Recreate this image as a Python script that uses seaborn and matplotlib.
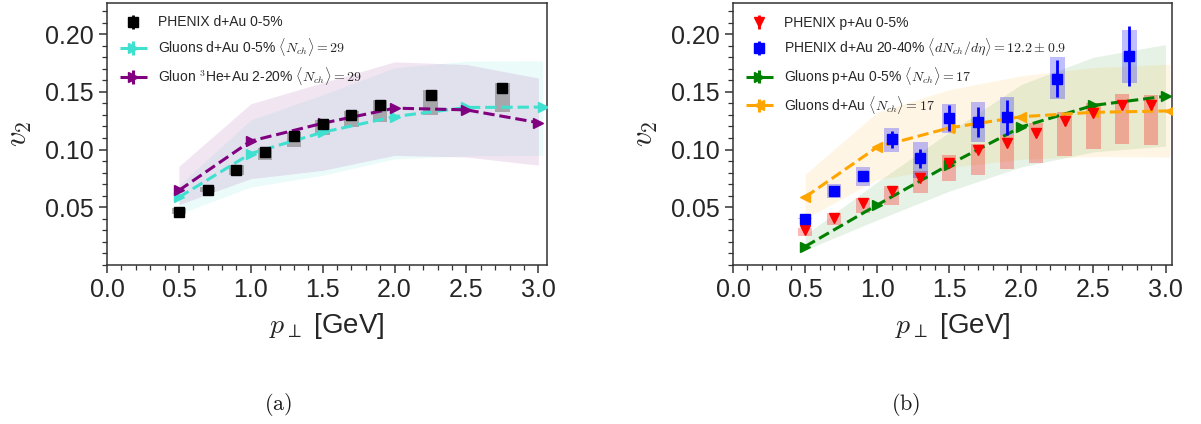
import numpy as np
import matplotlib
matplotlib.use("Agg")
import matplotlib.pyplot as plt
import seaborn as sns
from matplotlib.ticker import MultipleLocator, FixedLocator

# ---------------- Panel (a) data ----------------
phx_dau_x = [0.5, 0.7, 0.9, 1.1, 1.3, 1.5, 1.7, 1.9, 2.25, 2.75]
phx_dau_v2 = [0.0462, 0.0654, 0.0826, 0.0977, 0.1117, 0.1220, 0.1298, 0.1388, 0.1476, 0.1530]
phx_dau_err = [0.001, 0.001, 0.0015, 0.0015, 0.002, 0.002, 0.002, 0.002, 0.003, 0.003]
phx_dau_sys_lo = [0.0445, 0.0630, 0.0777, 0.0914, 0.1024, 0.1126, 0.1199, 0.1243, 0.1300, 0.1324]
phx_dau_sys_hi = [0.0490, 0.0680, 0.0864, 0.1010, 0.1150, 0.1257, 0.1336, 0.1432, 0.1520, 0.1578]

glu_dau_x = [0.5, 1.0, 1.5, 2.0, 2.5, 3.03]
glu_dau_v2 = [0.0587, 0.0966, 0.1150, 0.1286, 0.1365, 0.1368]
glu_dau_lo = [0.0442, 0.0675, 0.0777, 0.0920, 0.0945, 0.0950]
glu_dau_hi = [0.0690, 0.1257, 0.1475, 0.1709, 0.1766, 0.1770]

glu_he_x = [0.5, 1.0, 1.5, 2.0, 2.5, 3.0]
glu_he_v2 = [0.0646, 0.1074, 0.1228, 0.1359, 0.1344, 0.1233]
glu_he_lo = [0.0523, 0.0748, 0.0820, 0.0950, 0.0935, 0.0865]
glu_he_hi = [0.0855, 0.1397, 0.1580, 0.1760, 0.1737, 0.1620]

# ---------------- Panel (b) data ----------------
phx_pau_x = [0.5, 0.7, 0.9, 1.1, 1.3, 1.5, 1.7, 1.9, 2.1, 2.3, 2.5, 2.7, 2.9]
phx_pau_v2 = [0.0300, 0.0408, 0.0535, 0.0638, 0.0756, 0.0885, 0.0994, 0.1056, 0.1144,
              0.1247, 0.1320, 0.1388, 0.1388]
phx_pau_err = [0.001, 0.001, 0.001, 0.0015, 0.0015, 0.002, 0.002, 0.002, 0.0025,
               0.003, 0.003, 0.0035, 0.0035]
phx_pau_sys_lo = [0.0250, 0.0344, 0.0452, 0.0520, 0.0624, 0.0726, 0.0776, 0.0829, 0.0882,
                  0.0942, 0.1006, 0.1050, 0.1037]
phx_pau_sys_hi = [0.0318, 0.0452, 0.0579, 0.0688, 0.0814, 0.0953, 0.1050, 0.1123, 0.1226,
                  0.1327, 0.1403, 0.1482, 0.1470]

phx_dau2_x = [0.5, 0.7, 0.9, 1.1, 1.3, 1.5, 1.7, 1.9, 2.25, 2.75]
phx_dau2_v2 = [0.0400, 0.0641, 0.0770, 0.1088, 0.0924, 0.1270, 0.1241, 0.1279, 0.1615, 0.1815]
phx_dau2_err = [0.0005, 0.001, 0.004, 0.007, 0.0085, 0.0112, 0.0128, 0.0150, 0.0157, 0.0260]
phx_dau2_sys_lo = [0.0395, 0.0579, 0.0682, 0.0977, 0.0756, 0.1147, 0.1065, 0.1123, 0.1441, 0.1580]
phx_dau2_sys_hi = [0.0410, 0.0703, 0.0853, 0.1189, 0.1065, 0.1394, 0.1412, 0.1453, 0.1800, 0.2036]

glu_pau_x = [0.5, 1.0, 1.5, 2.0, 2.5, 3.0]
glu_pau_v2 = [0.0160, 0.0520, 0.0870, 0.1197, 0.1383, 0.1462]
glu_pau_lo = [0.0130, 0.0390, 0.0640, 0.0850, 0.0980, 0.1030]
glu_pau_hi = [0.0260, 0.0720, 0.1150, 0.1565, 0.1800, 0.1910]

glu_dau17_x = [0.5, 1.0, 1.5, 2.0, 2.5, 3.03]
glu_dau17_v2 = [0.0588, 0.1021, 0.1188, 0.1285, 0.1323, 0.1335]
glu_dau17_lo = [0.0400, 0.0740, 0.0844, 0.0917, 0.0940, 0.0935]
glu_dau17_hi = [0.0785, 0.1323, 0.1520, 0.1640, 0.1710, 0.1740]

y_ticks = [0.05, 0.10, 0.15, 0.20]
x_ticks = [0.0, 0.5, 1.0, 1.5, 2.0, 2.5, 3.0]

# ---------------- style ----------------
sns.set_theme(style="ticks")
plt.rcParams['font.family'] = ['Liberation Sans', 'DejaVu Sans']
plt.rcParams['mathtext.fontset'] = 'cm'
plt.rcParams['axes.edgecolor'] = '.2'
plt.rcParams['axes.linewidth'] = 1.1

fig = plt.figure(figsize=(12.01, 4.24), dpi=100)
ax1 = fig.add_axes([107 / 1201, 1 - 265 / 424, 440 / 1201, 262 / 424])
ax2 = fig.add_axes([733 / 1201, 1 - 265 / 424, 439 / 1201, 262 / 424])


def phenix(ax, x, y, err, lo, hi, color, marker, ms, box_color, box_alpha, label):
    lo = np.asarray(lo); hi = np.asarray(hi)
    ax.bar(x, hi - lo, bottom=lo, width=0.1, color=box_color, alpha=box_alpha,
           linewidth=0, zorder=2)
    return ax.errorbar(x, y, yerr=err, fmt=marker, color=color, ms=ms,
                       elinewidth=2, capsize=0, zorder=4, label=label)


def gluon(ax, x, y, lo, hi, color, marker, label):
    ax.fill_between(x, lo, hi, color=color, alpha=0.1, linewidth=0, zorder=1)
    sns.lineplot(x=x, y=y, ax=ax, color=color, linestyle='--', linewidth=2.2,
                 marker=marker, markersize=7, markeredgecolor=color,
                 markeredgewidth=1, errorbar=None, legend=False, zorder=3)
    # legend proxy (errorbar handle)
    return ax.errorbar([], [], yerr=[], fmt='--', marker=marker, color=color,
                       lw=2.2, ms=7, elinewidth=2.2, label=label)


# Panel (a)
h1 = phenix(ax1, phx_dau_x, phx_dau_v2, phx_dau_err, phx_dau_sys_lo, phx_dau_sys_hi,
            'black', 's', 7, 'gray', 0.6, 'PHENIX d+Au 0-5%')
h2 = gluon(ax1, glu_dau_x, glu_dau_v2, glu_dau_lo, glu_dau_hi, 'turquoise', '>',
           r'Gluons d+Au 0-5% $\langle N_{ch}\rangle=29$')
h3 = gluon(ax1, glu_he_x, glu_he_v2, glu_he_lo, glu_he_hi, 'purple', '>',
           r'Gluon $^{3}$He+Au 2-20% $\langle N_{ch}\rangle=29$')
ax1.legend(handles=[h1, h2, h3], loc='upper left', frameon=False, fontsize=10)

# Panel (b)
g1 = phenix(ax2, phx_pau_x, phx_pau_v2, phx_pau_err, phx_pau_sys_lo, phx_pau_sys_hi,
            'red', 'v', 7.5, 'red', 0.28, 'PHENIX p+Au 0-5%')
g2 = phenix(ax2, phx_dau2_x, phx_dau2_v2, phx_dau2_err, phx_dau2_sys_lo, phx_dau2_sys_hi,
            'blue', 's', 7, 'blue', 0.25,
            r'PHENIX d+Au 20-40% $\langle dN_{ch}/d\eta\rangle=12.2\pm0.9$')
g3 = gluon(ax2, glu_pau_x, glu_pau_v2, glu_pau_lo, glu_pau_hi, 'green', '>',
           r'Gluons p+Au 0-5% $\langle N_{ch}\rangle=17$')
g4 = gluon(ax2, glu_dau17_x, glu_dau17_v2, glu_dau17_lo, glu_dau17_hi, 'orange', '<',
           r'Gluons d+Au $\langle N_{ch}\rangle=17$')
ax2.legend(handles=[g1, g2, g3, g4], loc='upper left', frameon=False, fontsize=10)

for ax, xmax in ((ax1, 3.06), (ax2, 3.045)):
    ax.set_xlim(0, xmax)
    ax.set_ylim(0, 0.227)
    ax.xaxis.set_major_locator(FixedLocator(x_ticks))
    ax.yaxis.set_major_locator(FixedLocator(y_ticks))
    ax.xaxis.set_minor_locator(MultipleLocator(0.1))
    ax.yaxis.set_minor_locator(MultipleLocator(0.01))
    ax.set_xticklabels([f"{v:.1f}" for v in x_ticks])
    ax.set_yticklabels([f"{v:.2f}" for v in y_ticks])
    ax.tick_params(which='major', direction='out', length=6, width=1.1,
                   labelsize=18, color='.2', labelcolor='.15',
                   left=True, bottom=True, top=False, right=False)
    ax.tick_params(which='minor', direction='out', length=3.5, width=0.9,
                   color='.2', left=True, bottom=True, top=False, right=False)
    for s in ax.spines.values():
        s.set_visible(True)
    ax.set_xlabel(r'$p_\perp$ [GeV]', fontsize=20, color='.15', labelpad=6)
    ax.set_ylabel(r'$v_2$', fontsize=22, color='.15', labelpad=8)

fig.text(278 / 1201, 1 - 405 / 424, r'$\mathrm{(a)}$', fontsize=16,
         ha='center', va='center', color='.1')
fig.text(906 / 1201, 1 - 405 / 424, r'$\mathrm{(b)}$', fontsize=16,
         ha='center', va='center', color='.1')

fig.savefig('out.png', dpi=100)
